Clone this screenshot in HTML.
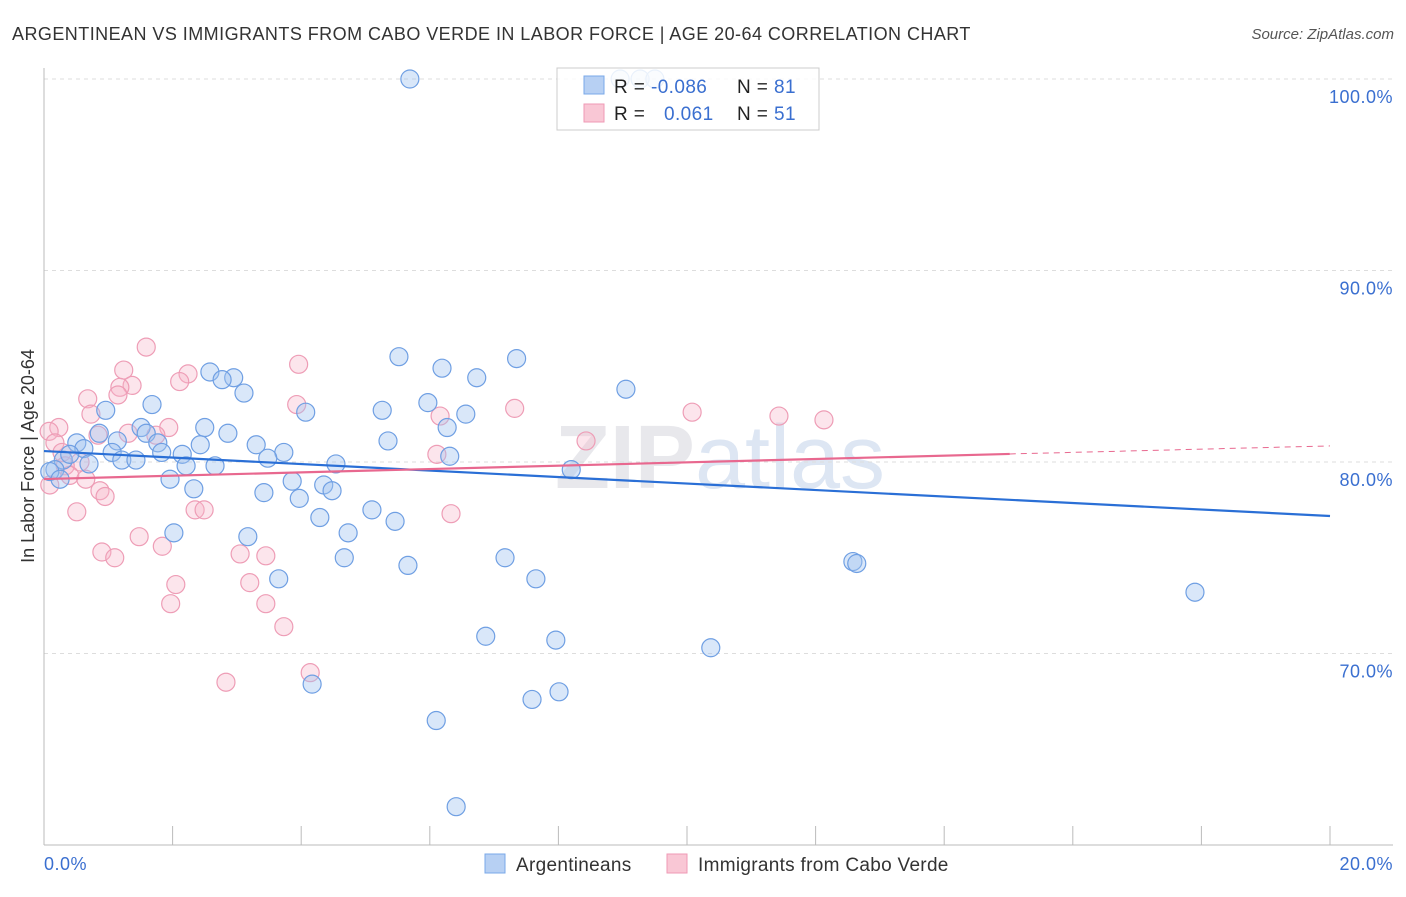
<!DOCTYPE html>
<html><head><meta charset="utf-8"><style>
body{margin:0;background:#fff;font-family:"Liberation Sans",sans-serif}
svg text{font-family:"Liberation Sans",sans-serif}
</style></head><body>
<svg id="c" width="1406" height="892">
<text x="12" y="40" font-size="18" fill="#333" letter-spacing="0.45">ARGENTINEAN VS IMMIGRANTS FROM CABO VERDE IN LABOR FORCE | AGE 20-64 CORRELATION CHART</text>
<text x="1394" y="39" font-size="15" fill="#555" font-style="italic" text-anchor="end">Source: ZipAtlas.com</text>
<text x="720" y="488" font-size="90" fill="#e8e8ec" text-anchor="middle" font-weight="bold">ZIP<tspan font-weight="normal" fill="#dde6f3">atlas</tspan></text>
<g id="grid"></g><g id="marks"></g><g id="lines"></g>
<text x="34" y="456" font-size="18" fill="#333" text-anchor="middle" transform="rotate(-90 34 456)">In Labor Force | Age 20-64</text>
<text x="44" y="870" font-size="18" fill="#3a6fd0" letter-spacing="0.5">0.0%</text>
<text x="1393" y="870" font-size="18" fill="#3a6fd0" text-anchor="end" letter-spacing="0.5">20.0%</text>
<g>
<rect x="557" y="68" width="262" height="62" fill="rgba(255,255,255,0.85)" stroke="#ccc"/>
<rect x="584" y="76" width="20" height="18" fill="#b7d0f3" stroke="#7aa8e8"/>
<rect x="584" y="104" width="20" height="18" fill="#f9c7d5" stroke="#ef9ab5"/>
<text x="614" y="93" font-size="19" fill="#222" letter-spacing="0.4">R = <tspan fill="#3a6fd0">-0.086</tspan><tspan x="737">N = </tspan><tspan fill="#3a6fd0">81</tspan></text>
<text x="614" y="120" font-size="19" fill="#222" letter-spacing="0.4">R = <tspan x="664" fill="#3a6fd0">0.061</tspan><tspan x="737">N = </tspan><tspan fill="#3a6fd0">51</tspan></text>
</g>
<g>
<rect x="485" y="854" width="20" height="19" fill="#b7d0f3" stroke="#7aa8e8"/>
<text x="516" y="871" font-size="19" fill="#333" letter-spacing="0.3">Argentineans</text>
<rect x="667" y="854" width="20" height="19" fill="#f9c7d5" stroke="#ef9ab5"/>
<text x="698" y="871" font-size="19" fill="#333" letter-spacing="0.3">Immigrants from Cabo Verde</text>
</g>
</svg>
<script>
const yTicks=[100,90,80,70];
const xTicks=[0,2,4,6,8,10,12,14,16,18,20];
const blueX=[5.69,8.96,9.27,9.5,5.52,7.35,2.58,2.95,2.77,6.19,6.73,3.11,9.05,1.68,0.96,5.97,5.26,4.07,6.56,6.27,1.51,2.5,2.86,1.59,1.14,1.77,5.35,0.51,0.62,0.86,2.43,3.3,1.83,2.15,3.73,3.48,1.06,1.21,1.43,0.7,6.31,2.21,2.66,4.54,8.2,0.3,0.4,0.17,0.09,0.25,1.96,3.86,4.35,2.33,3.42,4.48,3.97,5.1,4.29,5.46,4.73,2.02,3.17,4.67,7.17,12.58,12.64,5.66,3.65,7.65,17.9,6.87,7.96,10.37,4.17,8.01,7.59,6.1,6.41];
const blueY=[100,100,100,100,85.5,85.4,84.7,84.4,84.3,84.9,84.4,83.6,83.8,83,82.7,83.1,82.7,82.6,82.5,81.8,81.8,81.8,81.5,81.5,81.1,81,81.1,81,80.7,81.5,80.9,80.9,80.5,80.4,80.5,80.2,80.5,80.1,80.1,79.9,80.3,79.8,79.8,79.9,79.6,80.1,80.4,79.6,79.5,79.1,79.1,79,78.8,78.6,78.4,78.5,78.1,77.5,77.1,76.9,76.3,76.3,76.1,75,75,74.8,74.7,74.6,73.9,73.9,73.2,70.9,70.7,70.3,68.4,68,67.6,66.5,62];
const pinkX=[1.59,1.24,3.96,2.24,2.11,1.37,1.18,1.15,0.68,3.93,7.32,10.08,11.43,12.13,0.73,6.16,1.94,0.23,0.08,0.84,1.31,1.74,8.43,0.17,0.28,6.11,0.56,0.33,0.4,0.65,0.09,0.87,0.95,0.51,2.35,2.49,6.33,1.48,1.84,0.9,1.1,3.05,3.45,2.05,3.2,1.97,3.45,3.73,4.14,2.83];
const pinkY=[86,84.8,85.1,84.6,84.2,84,83.9,83.5,83.3,83,82.8,82.6,82.4,82.2,82.5,82.4,81.8,81.8,81.6,81.4,81.5,81.4,81.1,81,80.5,80.4,80,79.8,79.3,79.1,78.8,78.5,78.2,77.4,77.5,77.5,77.3,76.1,75.6,75.3,75,75.2,75.1,73.6,73.7,72.6,72.6,71.4,69,68.5];
const blueTrend=[80.57,77.18];
const pinkTrend=[79.11,80.42,80.84];
const pinkSolidEnd=15.02;
const X=v=>44+v*64.3, Y=v=>79+(100-v)*19.15;
const NS='http://www.w3.org/2000/svg';
function mk(tag,attrs,parent){const e=document.createElementNS(NS,tag);for(const k in attrs)e.setAttribute(k,attrs[k]);document.getElementById(parent).appendChild(e);return e;}
yTicks.forEach(t=>{
 const l=mk('line',{x1:44,x2:1393,y1:Y(t),y2:Y(t),stroke:'#ddd','stroke-dasharray':'4 4'},'grid');
 
 
 const tx=mk('text',{x:1393,y:Y(t)+24,'font-size':18,fill:'#3a6fd0','text-anchor':'end','letter-spacing':0.5},'grid');
 tx.textContent=t.toFixed(1)+'%';
 
 
});
mk('line',{x1:44,x2:44,y1:68,y2:845,stroke:'#bbb'},'grid');
mk('line',{x1:44,x2:1393,y1:845,y2:845,stroke:'#bbb'},'grid');
xTicks.forEach(t=>{
 const l=mk('line',{x1:X(t),x2:X(t),y1:826,y2:845,stroke:'#bbb'},'grid');
 
 
});
function dots(xs,ys,fill,stroke,name){xs.forEach((x,i)=>{
 const c=mk('circle',{cx:X(x),cy:Y(ys[i]),r:9,fill:fill,stroke:stroke,'stroke-width':1.2},'marks');
 
 
});}
dots(pinkX,pinkY,'rgba(246,180,200,0.35)','#ee9db6','cabo-verde-point');
dots(blueX,blueY,'rgba(160,195,240,0.4)','#6f9fe3','argentinean-point');
let l=mk('line',{x1:X(0),y1:Y(blueTrend[0]),x2:X(20),y2:Y(blueTrend[1]),stroke:'#2a6fd6','stroke-width':2.2},'lines');


l=mk('line',{x1:X(0),y1:Y(pinkTrend[0]),x2:X(pinkSolidEnd),y2:Y(pinkTrend[1]),stroke:'#e8688f','stroke-width':2.2},'lines');


l=mk('line',{x1:X(pinkSolidEnd),y1:Y(pinkTrend[1]),x2:X(20),y2:Y(pinkTrend[2]),stroke:'#e8688f','stroke-width':1,'stroke-dasharray':'6 5'},'lines');


</script>
</body></html>
